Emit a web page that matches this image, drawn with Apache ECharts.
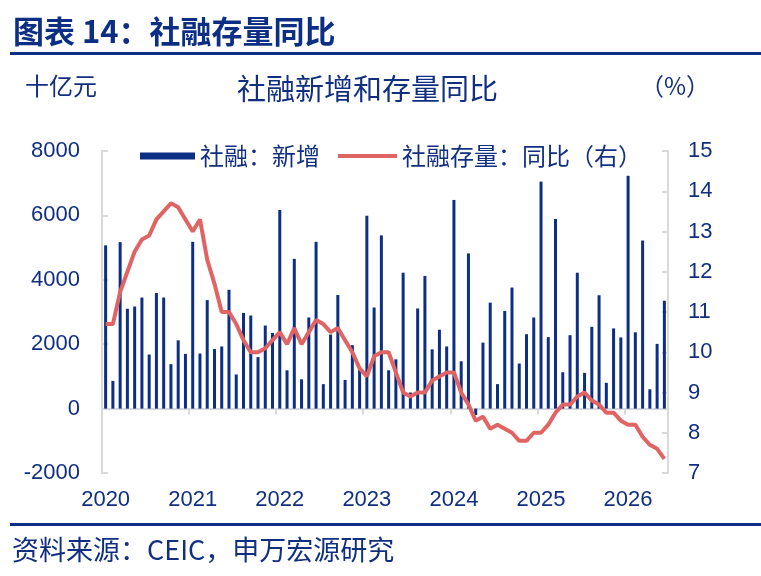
<!DOCTYPE html>
<html><head><meta charset="utf-8">
<script src="https://cdn.jsdelivr.net/npm/echarts@6/dist/echarts.min.js"></script>
<style>html,body{margin:0;padding:0;background:#fff}#c{width:761px;height:576px}</style>
</head><body><div id="c"></div>
<script>
// Categories: monthly, Jan 2020 – Jun 2026
const years = ['2020','2021','2022','2023','2024','2025','2026'];
const monthsPerYear = [12,12,12,12,12,12,6];
const categories = [];
years.forEach((y, yi) => { for (let m = 1; m <= monthsPerYear[yi]; m++) categories.push(y + '-' + (m < 10 ? '0' + m : m)); });

// 社融：新增 (十亿元)
const tsfNew2020 = [5070, 860, 5170, 3100, 3170, 3450, 1680, 3590, 3450, 1380, 2120, 1700];
const tsfNew2021 = [5180, 1710, 3370, 1850, 1930, 3690, 1060, 2970, 2890, 1600, 2580, 2350];
const tsfNew2022 = [6170, 1190, 4650, 910, 2830, 5180, 760, 2300, 3530, 890, 1970, 1200];
const tsfNew2023 = [5990, 3140, 5380, 1190, 1530, 4220, 500, 3110, 4120, 1840, 2450, 1930];
const tsfNew2024 = [6480, 1470, 4820, -200, 2050, 3290, 760, 3030, 3760, 1400, 2310, 2830];
const tsfNew2025 = [7050, 2220, 5890, 1130, 2280, 4220, 1110, 2540, 3520, 800, 2490, 2210];
const tsfNew2026 = [7230, 2370, 5220, 600, 2010, 3350];

// 社融存量：同比 (%)
const tsfYoy2020 = [10.7, 10.7, 11.5, 12.0, 12.5, 12.8, 12.9, 13.3, 13.5, 13.7, 13.6, 13.3];
const tsfYoy2021 = [13.0, 13.3, 12.3, 11.7, 11.0, 11.0, 10.7, 10.3, 10.0, 10.0, 10.1, 10.3];
const tsfYoy2022 = [10.5, 10.2, 10.6, 10.2, 10.5, 10.8, 10.7, 10.5, 10.6, 10.3, 10.0, 9.6];
const tsfYoy2023 = [9.4, 9.9, 10.0, 10.0, 9.5, 9.0, 8.9, 9.0, 9.0, 9.3, 9.4, 9.5];
const tsfYoy2024 = [9.5, 9.0, 8.7, 8.3, 8.4, 8.1, 8.2, 8.1, 8.0, 7.8, 7.8, 8.0];
const tsfYoy2025 = [8.0, 8.2, 8.5, 8.7, 8.7, 8.9, 9.0, 8.8, 8.7, 8.5, 8.5, 8.3];
const tsfYoy2026 = [8.2, 8.2, 7.9, 7.7, 7.6, 7.35];

const leftTicks = { min: -2000, max: 8000, interval: 2000 };
const rightTicks = { min: 7, max: 15, interval: 1 };

const tsfNew = [].concat(tsfNew2020, tsfNew2021, tsfNew2022, tsfNew2023, tsfNew2024, tsfNew2025, tsfNew2026);
const tsfYoy = [].concat(tsfYoy2020, tsfYoy2021, tsfYoy2022, tsfYoy2023, tsfYoy2024, tsfYoy2025, tsfYoy2026);

const navy = '#0c2e84';
const txt = '#102f80';
const grey = '#d9d9d9';
const red = '#e06464';
const cjk = '"Noto Sans CJK SC", sans-serif';
const lat = '"Liberation Sans", Arial, sans-serif';

const chart = echarts.init(document.getElementById('c'));
chart.setOption({
  animation: false,
  backgroundColor: '#fff',
  grid: { left: 102, right: 93, top: 151, bottom: 103 },
  legend: [
    {
      left: 135, top: 139, itemWidth: 55, itemHeight: 7, itemGap: 16,
      textStyle: { fontSize: 24, color: txt, fontFamily: cjk },
      data: [{ name: '社融：新增', icon: 'rect' }]
    },
    {
      left: 333, top: 139, itemWidth: 59, itemHeight: 4, itemGap: 16,
      textStyle: { fontSize: 24, color: txt, fontFamily: cjk },
      data: [{ name: '社融存量：同比（右）', icon: 'rect', itemStyle: { color: red } }]
    }
  ],
  xAxis: [
    {
      type: 'category', data: categories, position: 'bottom',
      axisLine: { show: false, onZero: false }, axisTick: { show: false },
      axisLabel: {
        interval: (i) => i % 12 === 0,
        formatter: (v) => v.slice(0, 4),
        fontSize: 22, color: txt, fontFamily: lat, margin: 16
      }
    },
    {
      type: 'category', data: categories, position: 'top',
      axisLine: { show: true, onZero: true, onZeroAxisIndex: 0, lineStyle: { color: grey, width: 2 } },
      axisTick: { show: true, inside: true, length: 6, interval: (i) => i % 12 === 0, lineStyle: { color: grey, width: 2 } },
      axisLabel: { show: false }
    }
  ],
  yAxis: [
    {
      type: 'value', position: 'left', min: leftTicks.min, max: leftTicks.max, interval: leftTicks.interval,
      axisLine: { show: true, lineStyle: { color: grey, width: 2 } },
      axisTick: { show: true, inside: true, length: 6, lineStyle: { color: grey, width: 2 } },
      splitLine: { show: false },
      axisLabel: { fontSize: 22, color: txt, fontFamily: lat, margin: 22, formatter: (v) => String(v) }
    },
    {
      type: 'value', position: 'right', min: rightTicks.min, max: rightTicks.max, interval: rightTicks.interval,
      axisLine: { show: true, lineStyle: { color: grey, width: 2 } },
      axisTick: { show: true, inside: true, length: 6, lineStyle: { color: grey, width: 2 } },
      splitLine: { show: false },
      axisLabel: { fontSize: 22, color: txt, fontFamily: lat, margin: 20, formatter: (v) => String(v) }
    }
  ],
  series: [
    { name: '社融：新增', type: 'bar', xAxisIndex: 0, yAxisIndex: 0, data: tsfNew, barWidth: 3, itemStyle: { color: navy } },
    { name: '社融存量：同比（右）', type: 'line', xAxisIndex: 0, yAxisIndex: 1, data: tsfYoy, symbol: 'none',
      lineStyle: { color: red, width: 4 }, itemStyle: { color: red }, z: 5 }
  ],
  graphic: [
    { type: 'text', left: 13, top: 16, style: { text: '图表 14：社融存量同比', font: 'bold 31px ' + cjk, fill: navy } },
    { type: 'rect', shape: { x: 10, y: 52, width: 751, height: 3 }, style: { fill: navy } },
    { type: 'text', left: 25, top: 74, style: { text: '十亿元', font: '24px ' + cjk, fill: txt } },
    { type: 'text', left: 237, top: 74, style: { text: '社融新增和存量同比', font: '29px ' + cjk, fill: txt } },
    { type: 'text', left: 640, top: 74, style: { text: '（%）', font: '24px ' + cjk, fill: txt } },
    { type: 'rect', shape: { x: 10, y: 523, width: 751, height: 3 }, style: { fill: navy } },
    { type: 'text', left: 12, top: 536, style: { text: '资料来源：CEIC，申万宏源研究', font: '27px ' + cjk, fill: txt } }
  ]
});
</script>
</body></html>
